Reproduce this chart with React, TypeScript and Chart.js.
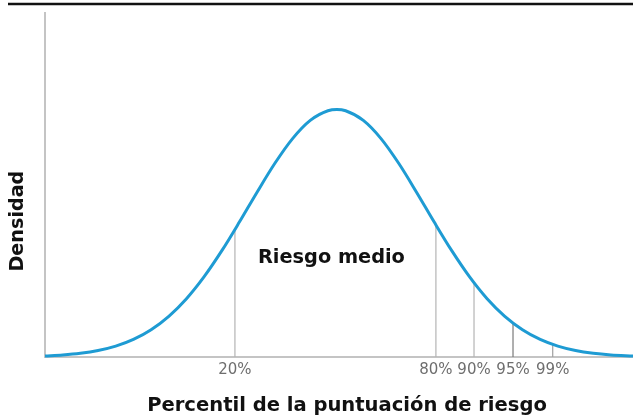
import React, { useEffect, useRef } from "react";
import { Chart, registerables } from "chart.js";

Chart.register(...registerables);

// Standardised score positions along the horizontal axis
const curveX = [
  -3.3, -3.1, -2.9, -2.7, -2.5, -2.3, -2.1, -1.9, -1.7, -1.5, -1.3, -1.1, -0.9, -0.7, -0.5, -0.3, -0.1, 0,
  0.1, 0.3, 0.5, 0.7, 0.9, 1.1, 1.3, 1.5, 1.7, 1.9, 2.1, 2.3, 2.5, 2.7, 2.9, 3.1, 3.35,
];
// Relative density
const curveY = [
  0.0043, 0.0082, 0.0149, 0.0261, 0.0439, 0.071, 0.1103, 0.1645, 0.2357, 0.3247, 0.4296, 0.5461, 0.667, 0.7827, 0.8825, 0.956, 0.995, 1.0,
  0.995, 0.956, 0.8825, 0.7827, 0.667, 0.5461, 0.4296, 0.3247, 0.2357, 0.1645, 0.1103, 0.071, 0.0439, 0.0261, 0.0149, 0.0082, 0.0037,
];

// Percentile marker lines
const pctLabels = ["20%", "80%", "90%", "95%", "99%"];
const pctX = [-1.152, 1.121, 1.552, 1.993, 2.442];
const pctHeight = [0.52, 0.535, 0.3, 0.137, 0.051];
const pctColors = ["#b4b4b4", "#b4b4b4", "#b4b4b4", "#7a7a7a", "#a0a0a0"];

const xTitle = "Percentil de la puntuación de riesgo";
const yTitle = "Densidad";
const bandLabel = "Riesgo medio";
const bandLabelY = 0.4;

const X_MIN = -3.3;
const X_MAX = 3.35;
const Y_MAX = 1.39;

const FAMILY = "'DejaVu Sans', sans-serif";

function fitFont(ctx: CanvasRenderingContext2D, text: string, width: number) {
  ctx.font = `bold 20px ${FAMILY}`;
  const w = ctx.measureText(text).width;
  const size = (20 * width) / w;
  ctx.font = `bold ${size.toFixed(2)}px ${FAMILY}`;
}

const textPlugin = {
  id: "texts",
  beforeDraw(chart: any) {
    const ctx = chart.ctx;
    ctx.save();
    ctx.fillStyle = "#ffffff";
    ctx.fillRect(0, 0, chart.width, chart.height);
    ctx.strokeStyle = "#111111";
    ctx.lineWidth = 2.5;
    ctx.beginPath();
    ctx.moveTo(8, 4);
    ctx.lineTo(chart.width, 4);
    ctx.stroke();
    ctx.restore();
  },
  afterDraw(chart: any) {
    const ctx = chart.ctx;
    const ca = chart.chartArea;
    const xs = chart.scales.x;
    const ys = chart.scales.y;
    ctx.save();
    ctx.fillStyle = "#111111";
    ctx.textAlign = "center";
    ctx.textBaseline = "middle";
    fitFont(ctx, xTitle, 400);
    ctx.fillText(xTitle, (ca.left + ca.right) / 2 + 8, 406);
    const mid = (pctX[0] + pctX[1]) / 2;
    fitFont(ctx, bandLabel, 147);
    ctx.fillText(bandLabel, xs.getPixelForValue(mid) - 4, ys.getPixelForValue(bandLabelY));
    fitFont(ctx, yTitle, 101);
    ctx.translate(18, ca.top + (ca.bottom - ca.top) * 0.605);
    ctx.rotate(-Math.PI / 2);
    ctx.fillText(yTitle, 0, 0);
    ctx.restore();
  },
};

export default function App() {
  const ref = useRef<HTMLCanvasElement | null>(null);

  useEffect(() => {
    document.body.style.margin = "0";
    if (!ref.current) return;
    const curve = curveX.map((x, i) => ({ x, y: curveY[i] }));
    const markerSets = pctX.map((x, i) => ({
      type: "line" as const,
      data: [
        { x, y: 0 },
        { x, y: pctHeight[i] },
      ],
      borderColor: pctColors[i],
      borderWidth: 1.2,
      pointRadius: 0,
      clip: false as any,
    }));
    const chart = new Chart(ref.current, {
      type: "line",
      data: {
        datasets: [
          {
            data: curve,
            borderColor: "#1e9bd3",
            borderWidth: 3,
            pointRadius: 0,
            cubicInterpolationMode: "monotone",
            clip: false as any,
          },
          ...markerSets,
        ] as any,
      },
      options: {
        responsive: false,
        animation: false,
        layout: { padding: { top: 13, left: 0, right: 0, bottom: 0 } },
        plugins: { legend: { display: false }, tooltip: { enabled: false } },
        scales: {
          x: {
            type: "linear",
            min: X_MIN,
            max: X_MAX,
            grid: { display: false, drawTicks: false },
            border: { display: true, color: "#c4c4c4", width: 2 },
            afterBuildTicks: (s: any) => {
              s.ticks = pctX.map((v) => ({ value: v }));
            },
            afterFit: (s: any) => {
              s.height = 60;
            },
            ticks: {
              autoSkip: false,
              maxRotation: 0,
              padding: 4,
              color: "#6e6e6e",
              font: { size: 15, family: "'DejaVu Sans', sans-serif" },
              callback: (_v: any, i: number) => pctLabels[i],
            },
          },
          y: {
            min: 0,
            max: Y_MAX,
            grid: { display: false, drawTicks: false },
            border: { display: true, color: "#c4c4c4", width: 2 },
            ticks: { display: false },
            afterFit: (s: any) => {
              s.width = 45;
            },
          },
        },
      },
      plugins: [textPlugin],
    });
    return () => chart.destroy();
  }, []);

  return <canvas ref={ref} width={633} height={417} style={{ display: "block" }} />;
}
